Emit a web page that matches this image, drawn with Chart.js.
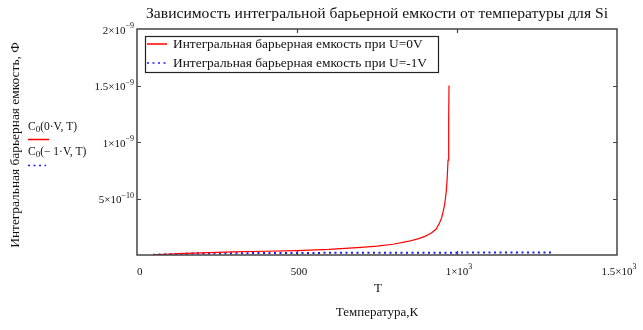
<!DOCTYPE html>
<html>
<head>
<meta charset="utf-8">
<script src="https://cdn.jsdelivr.net/npm/chart.js@4.4.1/dist/chart.umd.min.js"></script>
<style>
  html, body { margin: 0; padding: 0; background: #fff; }
</style>
</head>
<body>
<canvas id="capChart" width="643" height="330"></canvas>
<script>
// C0(0V, T): barrier capacitance at zero bias
const tempZeroBias = [50, 100, 150, 200, 250, 300, 400, 500, 600, 700, 750, 800, 850, 880, 900, 920, 935, 945, 952, 958, 962, 966, 969, 972, 974, 975];
const capZeroBias = [2e-12, 8e-12, 1.4e-11, 1.9e-11, 2.3e-11, 2.7e-11, 3.3e-11, 3.9e-11, 5.0e-11, 6.8e-11, 7.8e-11, 9.5e-11, 1.22e-10, 1.45e-10, 1.65e-10, 1.95e-10, 2.3e-10, 2.8e-10, 3.3e-10, 4.0e-10, 4.6e-10, 5.5e-10, 6.6e-10, 8.4e-10, 1.2e-9, 1.5e-9];

// C0(-1V, T): barrier capacitance at reverse bias
const tempReverse = [50, 100, 150, 200, 300, 500, 700, 1000, 1300];
const capReverse = [2e-12, 7e-12, 1.1e-11, 1.4e-11, 1.6e-11, 1.8e-11, 2.0e-11, 2.1e-11, 2.2e-11];

const seriesLabels = ['Интегральная барьерная емкость при U=0V', 'Интегральная барьерная емкость при U=-1V'];
const traceNames = [['C', '0', '(0·V, T)'], ['C', '0', '(− 1·V, T)']];

const xTickValues = [0, 500, 1000, 1500];
const xTickLabels = [['0', ''], ['500', ''], ['1×10', '3'], ['1.5×10', '3']];
const yTickValues = [5e-10, 1e-9, 1.5e-9, 2e-9];
const yTickLabels = [['5×10', '−10'], ['1×10', '−9'], ['1.5×10', '−9'], ['2×10', '−9']];

const chartTitle = 'Зависимость интегральной барьерной емкости от температуры для Si';
const xVarName = 'T';
const xTitle = 'Температура,К';
const yTitle = 'Интегральная барьерная емкость, Ф';

const SERIF = '"Liberation Serif", "Times New Roman", serif';
const RED = '#ff0000';
const BLUE = '#1a1aff';

function toPoints(xs, ys) {
    return xs.map((x, i) => ({ x: x, y: ys[i] }));
}

// text with a raised exponent, e.g. 1.5×10^-9
function drawPower(ctx, base, exp, x, y, align, size) {
    ctx.font = `${size}px ${SERIF}`;
    const wb = ctx.measureText(base).width;
    ctx.font = `${Math.round(size * 0.75)}px ${SERIF}`;
    const we = exp ? ctx.measureText(exp).width : 0;
    const total = wb + we;
    let left = x;
    if (align === 'center') left = x - total / 2;
    else if (align === 'right') left = x - total;
    ctx.textAlign = 'left';
    ctx.textBaseline = 'middle';
    ctx.font = `${size}px ${SERIF}`;
    ctx.fillText(base, left, y);
    if (exp) {
        ctx.font = `${Math.round(size * 0.75)}px ${SERIF}`;
        ctx.fillText(exp, left + wb, y - 5);
    }
}

// name with a lowered index, e.g. C0(0·V, T)
function drawIndexed(ctx, head, idx, tail, x, y, size) {
    ctx.textAlign = 'left';
    ctx.textBaseline = 'middle';
    ctx.font = `${size}px ${SERIF}`;
    ctx.fillText(head, x, y);
    const w1 = ctx.measureText(head).width;
    ctx.font = `${Math.round(size * 0.8)}px ${SERIF}`;
    ctx.fillText(idx, x + w1, y + 3);
    const w2 = ctx.measureText(idx).width;
    ctx.font = `${size}px ${SERIF}`;
    ctx.fillText(tail, x + w1 + w2, y);
}

const frameDecor = {
    id: 'frameDecor',
    afterDraw(chart) {
        const ctx = chart.ctx;
        const area = chart.chartArea;
        const xs = chart.scales.x;
        const ys = chart.scales.y;
        ctx.save();

        // plot frame
        ctx.strokeStyle = '#444';
        ctx.lineWidth = 1.5;
        ctx.strokeRect(area.left, area.top, area.right - area.left, area.bottom - area.top);

        // inward tick marks
        ctx.lineWidth = 1.2;
        ctx.beginPath();
        xTickValues.forEach(v => {
            if (v <= xs.min || v >= xs.max) return;
            const px = Math.round(xs.getPixelForValue(v)) + 0.5;
            ctx.moveTo(px, area.bottom); ctx.lineTo(px, area.bottom - 4);
            ctx.moveTo(px, area.top); ctx.lineTo(px, area.top + 4);
        });
        yTickValues.forEach(v => {
            if (v <= ys.min || v >= ys.max) return;
            const py = Math.round(ys.getPixelForValue(v)) + 0.5;
            ctx.moveTo(area.left, py); ctx.lineTo(area.left + 4, py);
            ctx.moveTo(area.right, py); ctx.lineTo(area.right - 4, py);
        });
        ctx.stroke();

        // tick labels
        ctx.fillStyle = '#111';
        xTickValues.forEach((v, i) => {
            const px = xs.getPixelForValue(v);
            const [b, e] = xTickLabels[i];
            if (i === 0) drawPower(ctx, b, e, px, area.bottom + 17, 'left', 11);
            else drawPower(ctx, b, e, px + 2, area.bottom + 17, 'center', 11);
        });
        yTickValues.forEach((v, i) => {
            const py = ys.getPixelForValue(v);
            const [b, e] = yTickLabels[i];
            drawPower(ctx, b, e, area.left - 3, py + 2, 'right', 11);
        });

        // title
        ctx.fillStyle = '#111';
        ctx.textAlign = 'center';
        ctx.textBaseline = 'middle';
        ctx.font = `15.6px ${SERIF}`;
        ctx.fillText(chartTitle, 377, 14);

        // x axis captions
        ctx.font = `13px ${SERIF}`;
        ctx.fillText(xVarName, 378, 289);
        ctx.fillText(xTitle, 377, 313);

        // y axis caption
        ctx.save();
        ctx.translate(15, 145);
        ctx.rotate(-Math.PI / 2);
        ctx.font = `13.4px ${SERIF}`;
        ctx.textAlign = 'center';
        ctx.textBaseline = 'middle';
        ctx.fillText(yTitle, 0, 0);
        ctx.restore();

        // trace names beside the y axis
        const ds = chart.data.datasets;
        ctx.fillStyle = '#111';
        drawIndexed(ctx, traceNames[0][0], traceNames[0][1], traceNames[0][2], 28, 127, 11.5);
        drawIndexed(ctx, traceNames[1][0], traceNames[1][1], traceNames[1][2], 28, 152, 11.5);
        ctx.lineWidth = 1.5;
        ctx.strokeStyle = ds[0].borderColor;
        ctx.setLineDash([]);
        ctx.beginPath(); ctx.moveTo(28, 139.5); ctx.lineTo(49, 139.5); ctx.stroke();
        ctx.strokeStyle = ds[1].borderColor;
        ctx.setLineDash(ds[1].borderDash);
        ctx.beginPath(); ctx.moveTo(28, 165.5); ctx.lineTo(46, 165.5); ctx.stroke();
        ctx.setLineDash([]);

        // legend box in the upper-left corner of the plot
        const lx = 145, ly = 36, lw = 293, lh = 36;
        ctx.fillStyle = '#fff';
        ctx.fillRect(lx, ly, lw, lh);
        ctx.strokeStyle = '#222';
        ctx.lineWidth = 1.2;
        ctx.strokeRect(lx + 0.5, ly + 0.5, lw, lh);
        ds.forEach((d, i) => {
            const yy = ly + 8 + i * 19;
            ctx.strokeStyle = d.borderColor;
            ctx.lineWidth = 1.5;
            ctx.setLineDash(d.borderDash || []);
            ctx.beginPath(); ctx.moveTo(lx + 2, yy); ctx.lineTo(lx + 22, yy); ctx.stroke();
            ctx.setLineDash([]);
            ctx.fillStyle = '#111';
            ctx.font = `13.4px ${SERIF}`;
            ctx.textAlign = 'left';
            ctx.textBaseline = 'middle';
            ctx.fillText(d.label, lx + 28, yy);
        });

        ctx.restore();
    }
};

new Chart(document.getElementById('capChart'), {
    type: 'scatter',
    data: {
        datasets: [{
            label: seriesLabels[0],
            data: toPoints(tempZeroBias, capZeroBias),
            showLine: true,
            borderColor: RED,
            borderWidth: 1.2,
            pointRadius: 0,
            tension: 0
        }, {
            label: seriesLabels[1],
            data: toPoints(tempReverse, capReverse),
            showLine: true,
            borderColor: BLUE,
            borderWidth: 2,
            borderDash: [2, 3.5],
            pointRadius: 0,
            tension: 0
        }]
    },
    options: {
        responsive: false,
        animation: false,
        layout: { padding: { left: 137, right: 26, top: 29, bottom: 75 } },
        plugins: {
            legend: { display: false },
            tooltip: { enabled: false },
            title: { display: false }
        },
        scales: {
            x: {
                type: 'linear',
                min: 0,
                max: 1500,
                grid: { display: false, drawTicks: false },
                border: { display: false },
                ticks: { display: false }
            },
            y: {
                type: 'linear',
                min: 0,
                max: 2e-9,
                grid: { display: false, drawTicks: false },
                border: { display: false },
                ticks: { display: false }
            }
        }
    },
    plugins: [frameDecor]
});
</script>
</body>
</html>
